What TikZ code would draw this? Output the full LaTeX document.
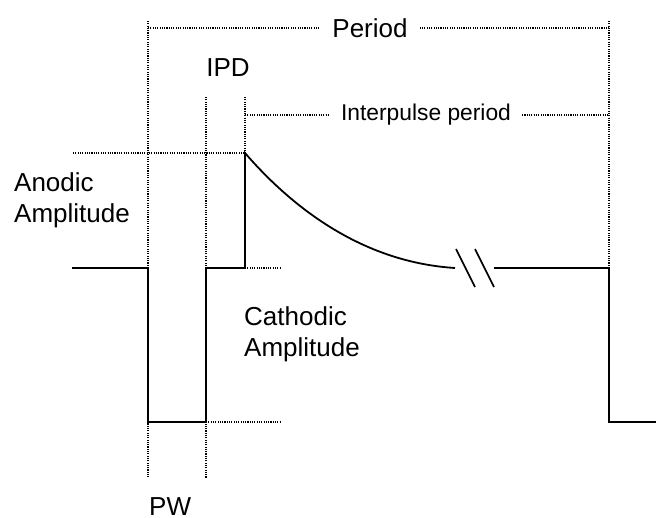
\documentclass[tikz,border=0pt]{standalone}
\usepackage{fontspec}
\setmainfont{Liberation Sans}
\begin{document}
\begin{tikzpicture}[x=1pt,y=-1pt,
  wave/.style={line width=1.8pt,line join=miter},
  guide/.style={line width=1.6pt,dash pattern=on 1.1pt off 1.2pt},
  lbl/.style={inner sep=0pt,font=\fontsize{26}{31}\selectfont},
  smalllbl/.style={inner sep=0pt,font=\fontsize{22.8}{27}\selectfont}]
\useasboundingbox (0,0) rectangle (656,518);

% waveform corner points
\coordinate (w0) at (72,268);
\coordinate (c1) at (148,268);
\coordinate (c2) at (148,422);
\coordinate (c3) at (206,422);
\coordinate (c4) at (206,268);
\coordinate (a1) at (245,268);
\coordinate (a2) at (245,153);
\coordinate (d1) at (455,268);
\coordinate (d2) at (494,268);
\coordinate (r1) at (609,268);
\coordinate (r2) at (609,422);
\coordinate (w9) at (656,422);

% labels
\node[lbl,inner xsep=12pt] (period) at (370,28) {Period};
\node[lbl,anchor=base] (ipd) at (228,77) {IPD};
\node[smalllbl,inner xsep=11pt] (ipp) at (426,115) {Interpulse period};
\node[lbl,anchor=base west] (an1) at (14,192) {Anodic};
\node[lbl,anchor=base west] (an2) at (14,223) {Amplitude};
\node[lbl,anchor=base west] (ca1) at (244,326) {Cathodic};
\node[lbl,anchor=base west] (ca2) at (244,357) {Amplitude};
\node[lbl,anchor=base west] (pw) at (149,515) {PW};

% guide lines
\draw[guide] (148,21) -- (148,478);
\draw[guide] (206,97) -- (206,478);
\draw[guide] (245,97) -- (a2);
\draw[guide] (609,21) -- (r1);
\draw[guide] (148,28) -- (period.west);
\draw[guide] (period.east) -- (609,28);
\draw[guide] (245,115) -- (ipp.west);
\draw[guide] (ipp.east) -- (609,115);
\draw[guide] (73,153) -- (a2);
\draw[guide] (a1) -- (281,268);
\draw[guide] (c3) -- (281,422);

% pulse train
\draw[wave] (w0) -- (c1) -- (c2) -- (c3) -- (c4) -- (a1) -- (a2)
  .. controls (290,205) and (360,262) .. (d1);
\draw[wave] (d2) -- (r1) -- (r2) -- (w9);
% axis break marks
\draw[line width=1.6pt] (456,249) -- (475,287);
\draw[line width=1.6pt] (475,249) -- (494,287);
\end{tikzpicture}
\end{document}
